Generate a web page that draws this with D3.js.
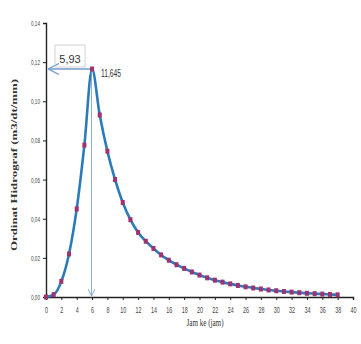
<!DOCTYPE html>
<html>
<head>
<meta charset="utf-8">
<script src="https://cdn.jsdelivr.net/npm/d3@7"></script>
<style>
  body { margin: 0; background: #fff; }
  svg { display: block; }
</style>
</head>
<body>
<div id="chart"></div>
<script>
const width = 361;
const height = 344;

// jam ke- (hours)
const hours = d3.range(0, 39);
// ordinat hidrograf
const ordinates = [
  0, 0.0012, 0.008, 0.022, 0.045, 0.0776, 0.1165, 0.093, 0.0745, 0.060,
  0.0483, 0.0395, 0.033, 0.0285, 0.0248, 0.0215, 0.0188, 0.0165, 0.0146, 0.0128,
  0.0112, 0.0098, 0.0086, 0.0076, 0.0067, 0.0059, 0.0052, 0.0046, 0.0041, 0.0036,
  0.0032, 0.0028, 0.0025, 0.0022, 0.0019, 0.0017, 0.0015, 0.0013, 0.0011
];
const xTicks = d3.range(0, 41, 2);
const yTicks = [0, 0.02, 0.04, 0.06, 0.08, 0.10, 0.12, 0.14];
const peakTime = 5.93;
const peakTimeLabel = '5,93';
const peakLabel = '11,645';

const svg = d3.select('#chart').append('svg')
  .attr('width', width)
  .attr('height', height);

const x = d3.scaleLinear().domain([0, 40]).range([46, 353]);
const y = d3.scaleLinear().domain([0, 0.14]).range([297, 23]);

const fmt = (d) => d3.format('.2f')(d).replace('.', ',');

// y axis
const yAxis = svg.append('g')
  .attr('transform', `translate(${x(0)},0)`)
  .call(d3.axisLeft(y).tickValues(yTicks).tickSize(3).tickFormat(fmt));
yAxis.select('.domain').attr('stroke', '#222').attr('stroke-width', 1.4);
yAxis.selectAll('.tick line').attr('stroke', '#222');
yAxis.selectAll('.tick text')
  .attr('font-family', 'Liberation Sans Narrow, Liberation Sans, sans-serif')
  .attr('font-size', 8)
  .attr('fill', '#444')
  .attr('textLength', 9)
  .attr('lengthAdjust', 'spacingAndGlyphs');

// x axis
const xAxis = svg.append('g')
  .attr('transform', `translate(0,${y(0)})`)
  .call(d3.axisBottom(x).tickValues(xTicks).tickSize(3).tickFormat(d3.format('d')));
xAxis.select('.domain').attr('stroke', '#222').attr('stroke-width', 1.4);
xAxis.selectAll('.tick line').attr('stroke', '#222');
xAxis.selectAll('.tick text')
  .attr('font-family', 'Liberation Sans Narrow, Liberation Sans, sans-serif')
  .attr('font-size', 9)
  .attr('fill', '#444')
  .attr('dy', '1.1em')
  .attr('textLength', (d) => (d < 10 ? 3 : 6))
  .attr('lengthAdjust', 'spacingAndGlyphs');

// axis titles
svg.append('text')
  .attr('transform', `translate(17,${(y(0) + y(0.14)) / 2 + 5}) rotate(-90)`)
  .attr('text-anchor', 'middle')
  .attr('font-family', 'Liberation Serif, serif')
  .attr('font-weight', 'bold')
  .attr('font-size', 9)
  .attr('fill', '#333')
  .attr('textLength', 172)
  .attr('lengthAdjust', 'spacingAndGlyphs')
  .text('Ordinat Hidrograf (m3/dt/mm)');

svg.append('text')
  .attr('x', 205)
  .attr('y', 326)
  .attr('text-anchor', 'middle')
  .attr('font-family', 'Liberation Serif, serif')
  .attr('font-size', 11)
  .attr('fill', '#333')
  .attr('textLength', 37)
  .attr('lengthAdjust', 'spacingAndGlyphs')
  .text('Jam ke (jam)');

// arrow markers
const defs = svg.append('defs');
defs.append('marker')
  .attr('id', 'arr')
  .attr('viewBox', '0 0 10 10')
  .attr('refX', 10).attr('refY', 5)
  .attr('markerWidth', 7).attr('markerHeight', 7)
  .attr('orient', 'auto')
  .append('path')
  .attr('d', 'M0,0 L10,5 L0,10')
  .attr('fill', 'none')
  .attr('stroke', '#7ea6cf')
  .attr('stroke-width', 1.3);

const peakY = y(d3.max(ordinates));

// vertical guide
svg.append('line')
  .attr('x1', x(peakTime)).attr('x2', x(peakTime))
  .attr('y1', peakY + 4).attr('y2', y(0) - 1)
  .attr('stroke', '#8fb0d4')
  .attr('stroke-width', 1)
  .attr('marker-end', 'url(#arr)');

// horizontal guide
svg.append('line')
  .attr('x1', x(peakTime)).attr('x2', x(0) + 2)
  .attr('y1', peakY).attr('y2', peakY)
  .attr('stroke', '#6f9bcb')
  .attr('stroke-width', 1.6)
  .attr('marker-end', 'url(#arr)');

// label box for time of peak
svg.append('rect')
  .attr('x', 55).attr('y', peakY - 24)
  .attr('width', 30).attr('height', 22)
  .attr('fill', 'none')
  .attr('stroke', '#c8c8c8')
  .attr('stroke-width', 0.8);

svg.append('text')
  .attr('x', 70).attr('y', peakY - 6)
  .attr('text-anchor', 'middle')
  .attr('font-family', 'Liberation Sans Narrow, Liberation Sans, sans-serif')
  .attr('font-size', 11)
  .attr('fill', '#333')
  .text(peakTimeLabel);

svg.append('text')
  .attr('x', 101).attr('y', peakY + 8)
  .attr('font-family', 'Liberation Sans Narrow, Liberation Sans, sans-serif')
  .attr('font-size', 10)
  .attr('fill', '#333')
  .attr('textLength', 20)
  .attr('lengthAdjust', 'spacingAndGlyphs')
  .text(peakLabel);

// hydrograph
const points = hours.map((h, i) => ({ h, q: ordinates[i] }));

const line = d3.line()
  .x((d) => x(d.h))
  .y((d) => y(d.q))
  .curve(d3.curveMonotoneX);

svg.append('path')
  .datum(points)
  .attr('d', line)
  .attr('fill', 'none')
  .attr('stroke', '#2b7bba')
  .attr('stroke-width', 2.6);

svg.selectAll('.pt')
  .data(points)
  .enter()
  .append('rect')
  .attr('class', 'pt')
  .attr('x', (d) => x(d.h) - 2)
  .attr('y', (d) => y(d.q) - 2.5)
  .attr('width', 4)
  .attr('height', 5)
  .attr('fill', '#a0336f');
</script>
</body>
</html>
